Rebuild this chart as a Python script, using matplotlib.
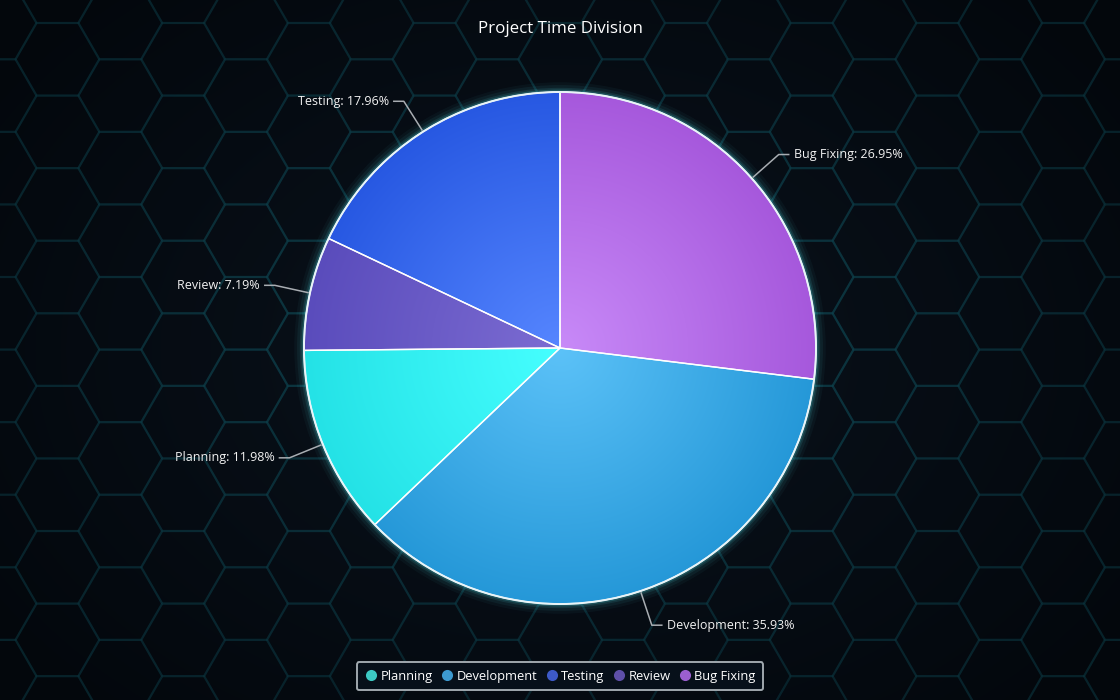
import numpy as np
import matplotlib
matplotlib.use('Agg')
import matplotlib.pyplot as plt
from matplotlib.collections import LineCollection
from matplotlib.lines import Line2D
from matplotlib.patches import Circle
from matplotlib.colors import to_rgb, to_rgba

# 데이터 (범례 순서)
categories = ['Planning', 'Development', 'Testing', 'Review', 'Bug Fixing']
hours = [20, 60, 30, 12, 45]

# 조각 색상: 중심(밝음) / 가장자리(어두움), 범례 마커 색
light_colors = ['#46ffff', '#5cc2f8', '#5686ff', '#7c6cd2', '#c88af8']
dark_colors = ['#24e2e6', '#2598d8', '#2758e2', '#5a4cbc', '#a658dc']
legend_colors = ['#3cc9c4', '#3d9ad0', '#3d5ac8', '#5e4fa8', '#9b5fd0']

plt.rcParams['font.family'] = ['Open Sans', 'DejaVu Sans']

W, H = 1120, 700
fig = plt.figure(figsize=(W / 100, H / 100), dpi=100)
ax = fig.add_axes([0, 0, 1, 1])
ax.set_xlim(0, W)
ax.set_ylim(0, H)
ax.axis('off')

# 배경 그라데이션
yy, xx = np.mgrid[0:H, 0:W]
d = np.sqrt(((xx - 560) / 700) ** 2 + ((yy - 350) / 500) ** 2)
d = np.clip(d, 0, 1)
c_in = np.array(to_rgb('#0a131d'))
c_out = np.array(to_rgb('#03070c'))
bg = c_in[None, None, :] * (1 - d[..., None]) + c_out[None, None, :] * d[..., None]
ax.imshow(bg, extent=(0, W, 0, H), origin='upper', zorder=0, aspect='auto')

# 육각형 격자 (배경 장식) - 위치에 따라 밝기가 달라짐
s = 41.9
dx = 1.5 * s
hh = np.sqrt(3) * s
segs, cols = [], []
for k in range(-6, 22):
    hx = 246 + dx * k
    oy = 23 if k % 2 == 0 else 23 + hh / 2
    for m in range(-2, 12):
        hy = oy + hh * m
        pts = [(hx + s * np.cos(np.radians(a)), H - (hy + s * np.sin(np.radians(a))))
               for a in range(0, 361, 60)]
        segs.append(pts)
        fade = 0.55 + 0.45 * np.cos((hx - 560) / 260) * np.cos((hy - 330) / 210)
        fade *= 1 - 0.5 * min(abs(hy - 330) / 380, 1)
        cols.append(to_rgba('#0f4a56', float(np.clip(0.12 + 0.38 * fade, 0.08, 0.55))))
hexes = LineCollection(segs, colors=cols, linewidths=1.6, zorder=1)
ax.add_collection(hexes)

# 파이 (이름순으로 시계방향)
order = sorted(range(len(categories)), key=lambda i: categories[i])
pie_vals = [hours[i] for i in order]
total = sum(hours)

cx, cy, R = 560, H - 348, 256

# 가장자리 글로우
for lw, a in [(14, 0.04), (10, 0.06), (6, 0.10), (3.5, 0.18)]:
    ax.add_patch(Circle((cx, cy), R, fill=False, edgecolor='#55e8f5', linewidth=lw,
                        alpha=a, zorder=2))

wedges, _ = ax.pie(pie_vals, startangle=90, counterclock=False, center=(cx, cy), radius=R,
                   colors=[dark_colors[i] for i in order],
                   wedgeprops=dict(edgecolor='white', linewidth=1.0), frame=True)

# 조각 내부 방사형 그라데이션
gy, gx = np.mgrid[0:2 * R, 0:2 * R]
rr = np.sqrt((gx - R + 0.5) ** 2 + (gy - R + 0.5) ** 2) / R
rr = np.clip(rr, 0, 1)[..., None]
for w, i in zip(wedges, order):
    lc = np.array(to_rgb(light_colors[i]))
    dc = np.array(to_rgb(dark_colors[i]))
    img = lc * (1 - rr) + dc * rr
    im = ax.imshow(img, extent=(cx - R, cx + R, cy - R, cy + R), origin='upper',
                   zorder=3, aspect='auto')
    im.set_clip_path(w)
    w.set_facecolor('none')
    w.set_zorder(4)

ax.add_patch(Circle((cx, cy), R, fill=False, edgecolor='#e8f4f8', linewidth=1.4, zorder=5))

# 라벨과 지시선
for w, i in zip(wedges, order):
    mid = np.radians((w.theta1 + w.theta2) / 2)
    ca, sa = np.cos(mid), np.sin(mid)
    p0 = (cx + (R + 2) * ca, cy + (R + 2) * sa)
    p1 = (cx + (R + 36) * ca, cy + (R + 36) * sa)
    sign = 1 if ca >= 0 else -1
    p2 = (p1[0] + sign * 10, p1[1])
    ax.plot([p0[0], p1[0], p2[0]], [p0[1], p1[1], p2[1]], color='#a8adb2', lw=1.1, zorder=6)
    pct = hours[i] / total * 100
    ax.text(p2[0] + sign * 5, p2[1], f'{categories[i]}: {pct:.2f}%', color='#f2f2f2',
            fontsize=9.0, ha='left' if sign > 0 else 'right', va='center', zorder=7)

ax.set_xlim(0, W)
ax.set_ylim(0, H)

# 제목
ax.text(560, H - 29, 'Project Time Division', color='white', fontsize=12.2,
        ha='center', va='center', zorder=7)

# 범례
handles = [Line2D([], [], marker='o', linestyle='none', markersize=8,
                  markerfacecolor=legend_colors[i], markeredgecolor='none')
           for i in range(len(categories))]
leg = fig.legend(handles, categories, loc='lower center', bbox_to_anchor=(0.5, 0.01),
                 ncol=5, frameon=True, fontsize=9.3, labelcolor='white',
                 handletextpad=0.25, columnspacing=0.6, handlelength=1.0,
                 borderpad=0.6, borderaxespad=0.2, fancybox=True)
frame = leg.get_frame()
frame.set_facecolor('#07101a')
frame.set_edgecolor('#a0a8ae')
frame.set_linewidth(1.4)
frame.set_alpha(1)

fig.savefig('out.png', dpi=100, facecolor='#060b12')
